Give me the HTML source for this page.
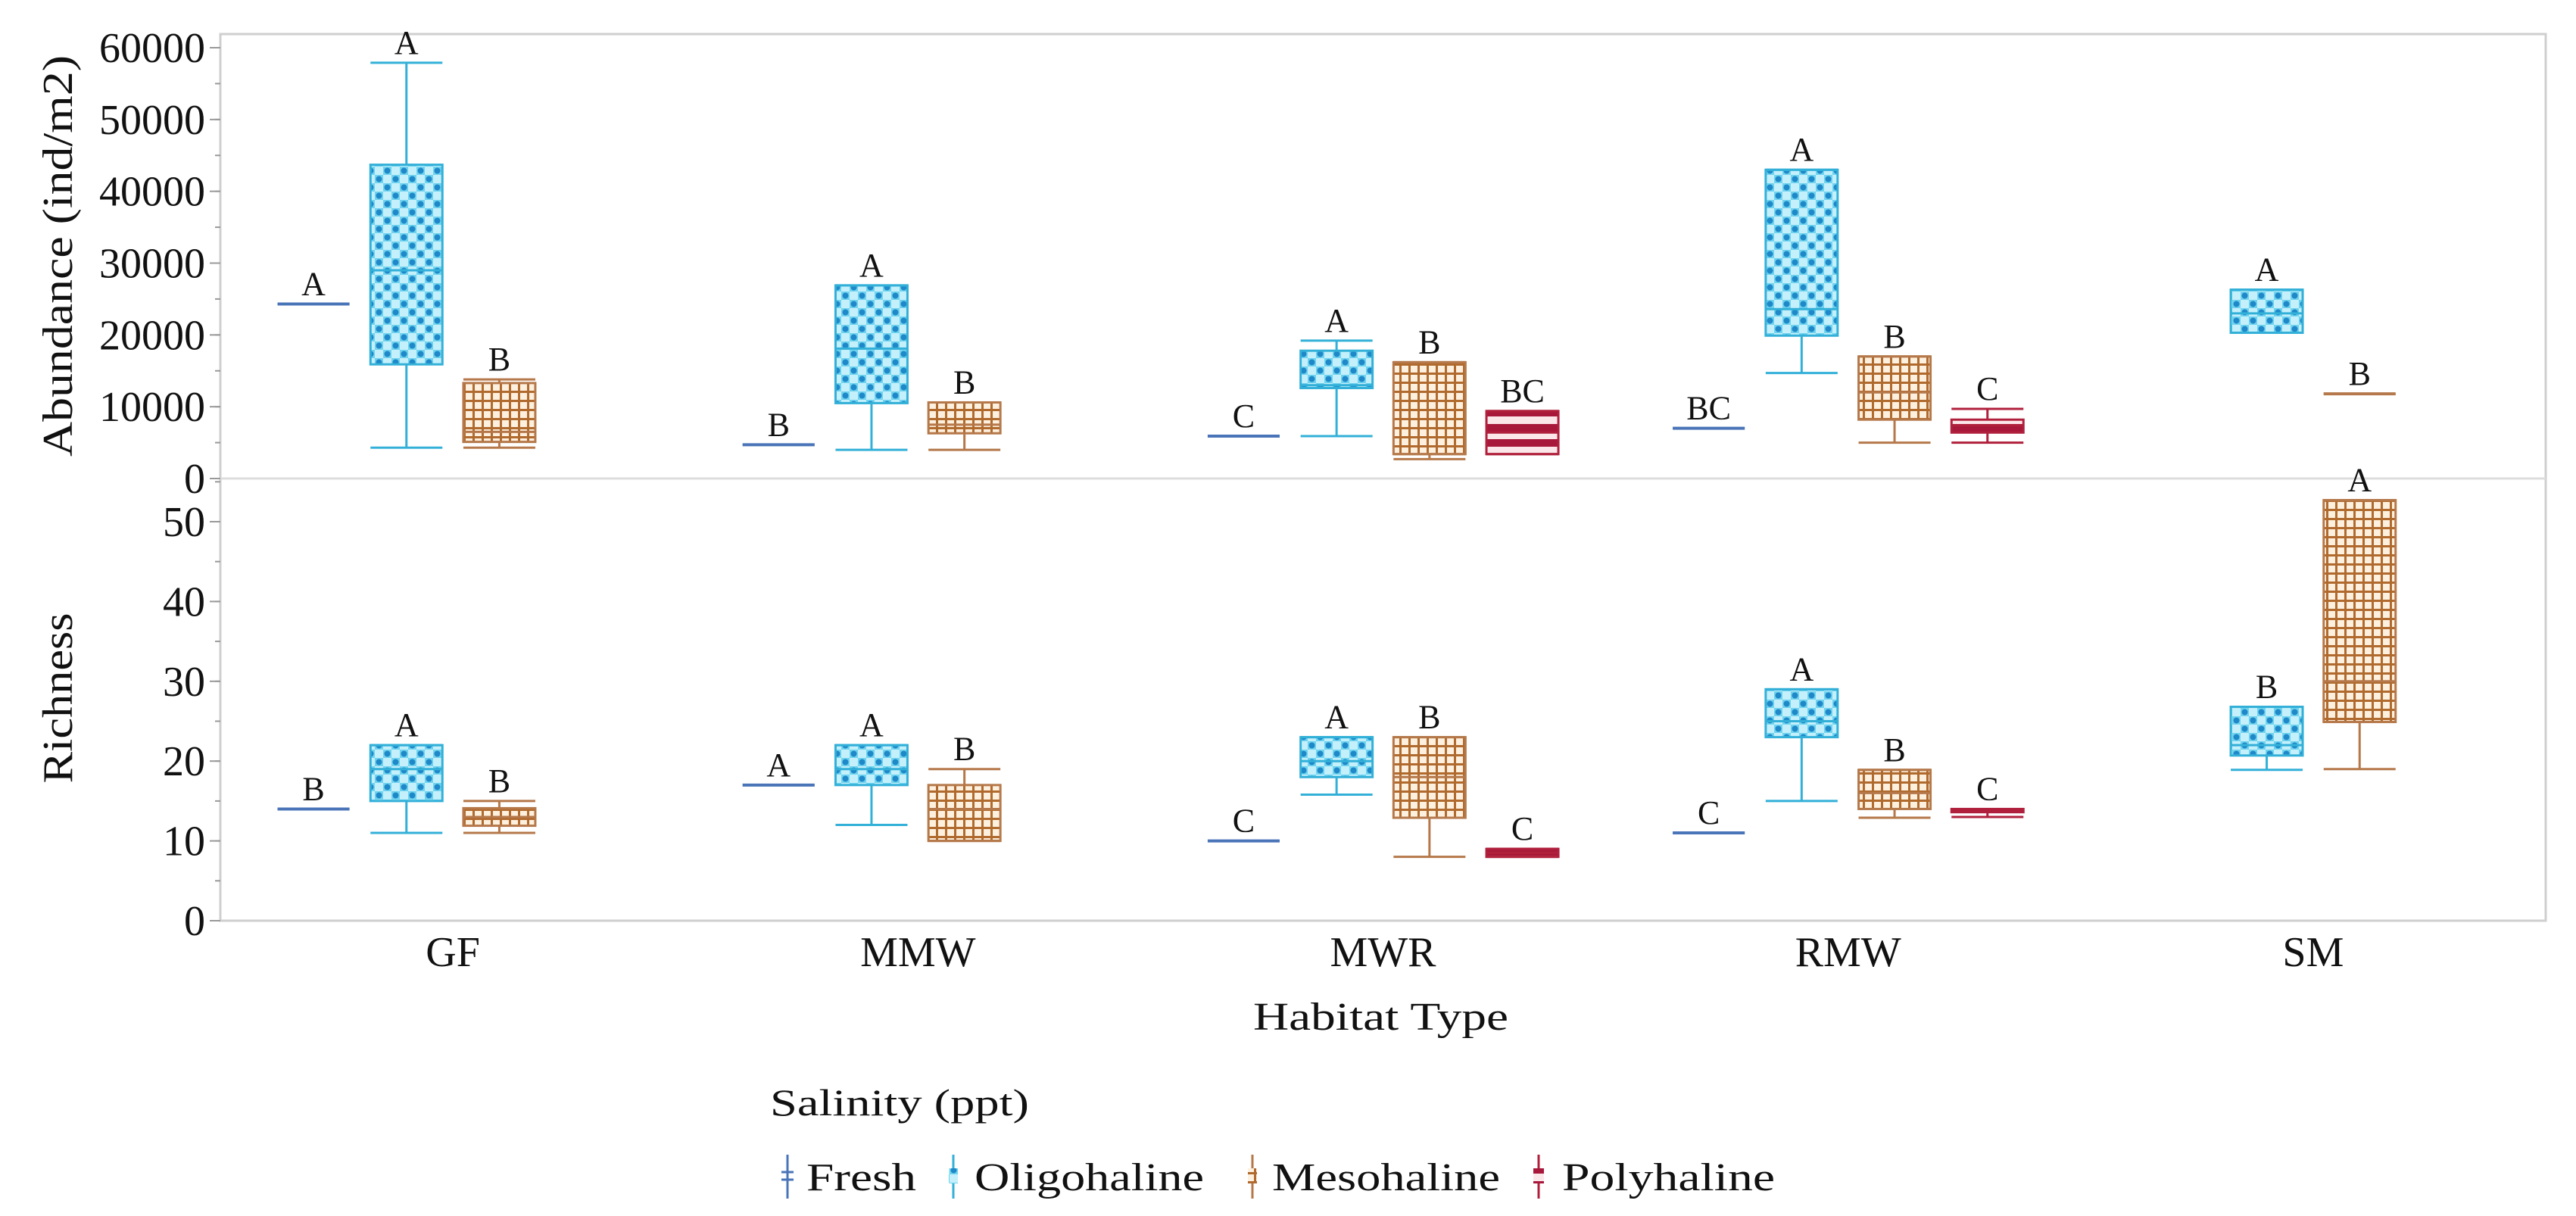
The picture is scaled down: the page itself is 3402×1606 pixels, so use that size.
<!DOCTYPE html>
<html><head><meta charset="utf-8"><style>
html,body{margin:0;padding:0;background:#fff}
svg{display:block}
text{font-family:"Liberation Serif",serif;fill:#111}
</style></head><body>
<svg id="chart" width="3402" height="1606" viewBox="0 0 3402 1606" xmlns="http://www.w3.org/2000/svg">
<defs>
<pattern id="pDots" width="22" height="22" patternUnits="userSpaceOnUse">
<rect width="22" height="22" fill="#c4f0fb"/>
<rect x="0" y="0" width="11" height="11" fill="#6fd3ef"/><rect x="11" y="11" width="11" height="11" fill="#6fd3ef"/>
<circle cx="5.5" cy="5.5" r="4" fill="#1e88c8"/><circle cx="16.5" cy="16.5" r="4" fill="#1e88c8"/>
</pattern>
<pattern id="pGrid" width="12" height="12" patternUnits="userSpaceOnUse">
<rect width="12" height="12" fill="#fdf0de"/>
<rect x="0" y="0" width="12" height="3" fill="#b06a2e"/><rect x="0" y="0" width="3" height="12" fill="#b06a2e"/>
</pattern>
<pattern id="pStripe" width="20" height="20" patternUnits="userSpaceOnUse">
<rect width="20" height="20" fill="#fbe7ea"/><rect y="0" width="20" height="10" fill="#a8183a"/>
</pattern>
</defs>
<g id="frame"></g>
<g id="marks"></g>
<text transform="translate(95,338) rotate(-90)" text-anchor="middle" font-size="56" textLength="530" lengthAdjust="spacingAndGlyphs">Abundance (ind/m2)</text>
<text transform="translate(95,922) rotate(-90)" text-anchor="middle" font-size="56" textLength="225" lengthAdjust="spacingAndGlyphs">Richness</text>
<text x="1655" y="1360" font-size="52" textLength="337" lengthAdjust="spacingAndGlyphs">Habitat Type</text>
<text x="1017" y="1473" font-size="50" textLength="342" lengthAdjust="spacingAndGlyphs">Salinity (ppt)</text>
<g>
<g>
<line x1="1040" y1="1525" x2="1040" y2="1583" stroke="#4a74b8" stroke-width="3"/><line x1="1032" y1="1548" x2="1048" y2="1548" stroke="#4a74b8" stroke-width="3"/><line x1="1032" y1="1558" x2="1048" y2="1558" stroke="#4a74b8" stroke-width="3"/>
<text x="1065" y="1572" font-size="52" textLength="145" lengthAdjust="spacingAndGlyphs">Fresh</text></g>
<g>
<line x1="1259" y1="1525" x2="1259" y2="1583" stroke="#33b0d8" stroke-width="3"/><rect x="1253" y="1543" width="12" height="20" fill="url(#pDots)"/>
<text x="1287" y="1572" font-size="52" textLength="303" lengthAdjust="spacingAndGlyphs">Oligohaline</text></g>
<g>
<line x1="1654" y1="1525" x2="1654" y2="1583" stroke="#b5784a" stroke-width="3"/><rect x="1648" y="1543" width="12" height="20" fill="url(#pGrid)"/>
<text x="1680" y="1572" font-size="52" textLength="301" lengthAdjust="spacingAndGlyphs">Mesohaline</text></g>
<g>
<line x1="2032" y1="1525" x2="2032" y2="1583" stroke="#b0203c" stroke-width="3"/><rect x="2025" y="1543" width="14" height="20" fill="url(#pStripe)"/>
<text x="2063" y="1572" font-size="52" textLength="281" lengthAdjust="spacingAndGlyphs">Polyhaline</text></g>
</g>
</svg>
<script>
const categories = ["GF","MMW","MWR","RMW","SM"];
const series = ["Fresh","Oligohaline","Mesohaline","Polyhaline"];
const abundanceTicks = [0,10000,20000,30000,40000,50000,60000];
const richnessTicks = [0,10,20,30,40,50];
// [min, q1, median, q3, max] per category per series
const abundanceFresh = [[24300,24300,24300,24300,24300],[4700,4700,4700,4700,4700],[5900,5900,5900,5900,5900],[7000,7000,7000,7000,7000],null];
const abundanceOligo = [[4300,15900,29000,43700,57900],[4000,10500,18100,26900,26900],[5900,12600,13000,17800,19200],[14700,19900,23600,43000,43000],[20300,20300,23000,26300,26300]];
const abundanceMeso = [[4300,5100,6500,13300,13800],[4000,6300,7500,10600,10600],[2700,3400,3400,16200,16200],[5000,8200,12000,17000,17000],[11800,11800,11800,11800,11800]];
const abundancePoly = [null,null,[3400,3400,6400,9400,9400],[5000,6400,7400,8200,9700],null];
const richnessFresh = [[14,14,14,14,14],[17,17,17,17,17],[10,10,10,10,10],[11,11,11,11,11],null];
const richnessOligo = [[11,15,19,22,22],[12,17,19,22,22],[15.8,18,20,23,23],[15,23,25,29,29],[18.9,20.7,22,26.8,26.8]];
const richnessMeso = [[11,11.9,13,14.1,15],[10,10,14,17,19],[8,12.9,18,23,23],[12.9,14,16,18.9,18.9],[19,24.9,30,52.7,52.7]];
const richnessPoly = [null,null,[8,8,8.5,9,9],[13,13.6,13.8,14,14],null];
const abundanceLetters = [["A","A","B",""],["B","A","B",""],["C","A","B","BC"],["BC","A","B","C"],["","A","B",""]];
const richnessLetters = [["B","A","B",""],["A","A","B",""],["C","A","B","C"],["C","A","B","C"],["","B","A",""]];

const NS="http://www.w3.org/2000/svg";
const L=291,R=3362,T=45,SEP=632,B=1216;
const gw=(R-L)/categories.length;
const yA=v=>632-v*(632-63)/60000;
const yR=v=>1216-v*(1216-689)/50;
const xSlot=(c,s)=>L+gw*(c+0.5)+(s-1.5)*122.7;
const BW=95;
const colors=["#4a74b8","#33b0d8","#b5784a","#b0203c"];
const fills=[null,"url(#pDots)","url(#pGrid)","url(#pStripe)"];
function mk(tag,attrs,parent){const e=document.createElementNS(NS,tag);for(const k in attrs)e.setAttribute(k,attrs[k]);parent.appendChild(e);return e;}
const frame=document.getElementById('frame');
const marks=document.getElementById('marks');
let e;
e=mk('rect',{x:L,y:T,width:R-L,height:B-T,fill:'none',stroke:'#cfcfcf','stroke-width':3},frame);


e=mk('line',{x1:L,y1:SEP,x2:R,y2:SEP,stroke:'#dcdcdc','stroke-width':3},frame);


function axis(ticks,scale,minorStep,lo,hi,name){
  for(let v=lo;v<=hi+1e-9;v+=minorStep){
    e=mk('line',{x1:L-7,y1:scale(v),x2:L,y2:scale(v),stroke:'#999','stroke-width':2},frame);
    
    
  }
  ticks.forEach(t=>{
    e=mk('line',{x1:L-14,y1:scale(t),x2:L,y2:scale(t),stroke:'#999','stroke-width':2},frame);
    
    
    e=mk('text',{x:L-20,y:scale(t)+19,'text-anchor':'end','font-size':56},frame);
    e.textContent=String(t);
    
    
  });
}
axis(abundanceTicks,yA,5000,0,60000,'abundance-axis');
axis(richnessTicks,yR,5,0,55,'richness-axis');
categories.forEach((c,i)=>{
  e=mk('text',{x:L+gw*(i+0.5),y:1276,'text-anchor':'middle','font-size':56},frame);
  e.textContent=c;
  
  
});
function drawPanel(data,letters,scale,panel){
  data.forEach((ser,s)=>{
    ser.forEach((d,c)=>{
      if(!d)return;
      const cx=xSlot(c,s),x0=cx-BW/2,col=colors[s];
      const g=mk('g',{},marks);
      
      
      const [mn,q1,md,q3,mx]=d;
      if(q3>q1 && fills[s]){
        mk('line',{x1:cx,y1:scale(mx),x2:cx,y2:scale(mn),stroke:col,'stroke-width':3},g);
        mk('rect',{x:x0,y:scale(q3),width:BW,height:scale(q1)-scale(q3),fill:fills[s],stroke:col,'stroke-width':3},g);
        mk('line',{x1:x0,y1:scale(md),x2:x0+BW,y2:scale(md),stroke:col,'stroke-width':3},g);
        mk('line',{x1:x0,y1:scale(mx),x2:x0+BW,y2:scale(mx),stroke:col,'stroke-width':3},g);
        mk('line',{x1:x0,y1:scale(mn),x2:x0+BW,y2:scale(mn),stroke:col,'stroke-width':3},g);
      } else {
        if(mx>mn) mk('line',{x1:cx,y1:scale(mx),x2:cx,y2:scale(mn),stroke:col,'stroke-width':3},g);
        mk('line',{x1:x0,y1:scale(mx),x2:x0+BW,y2:scale(mx),stroke:col,'stroke-width':3},g);
        mk('line',{x1:x0,y1:scale(mn),x2:x0+BW,y2:scale(mn),stroke:col,'stroke-width':4},g);
        if(s===3) mk('line',{x1:x0,y1:scale(md),x2:x0+BW,y2:scale(md),stroke:col,'stroke-width':6},g);
      }
      const lt=letters[c][s];
      if(lt){
        const t=mk('text',{x:cx,y:scale(mx)-12,'text-anchor':'middle','font-size':44},marks);
        t.textContent=lt;
        
        
      }
    });
  });
}
drawPanel([abundanceFresh,abundanceOligo,abundanceMeso,abundancePoly],abundanceLetters,yA,'abundance');
drawPanel([richnessFresh,richnessOligo,richnessMeso,richnessPoly],richnessLetters,yR,'richness');
</script>
</body></html>
